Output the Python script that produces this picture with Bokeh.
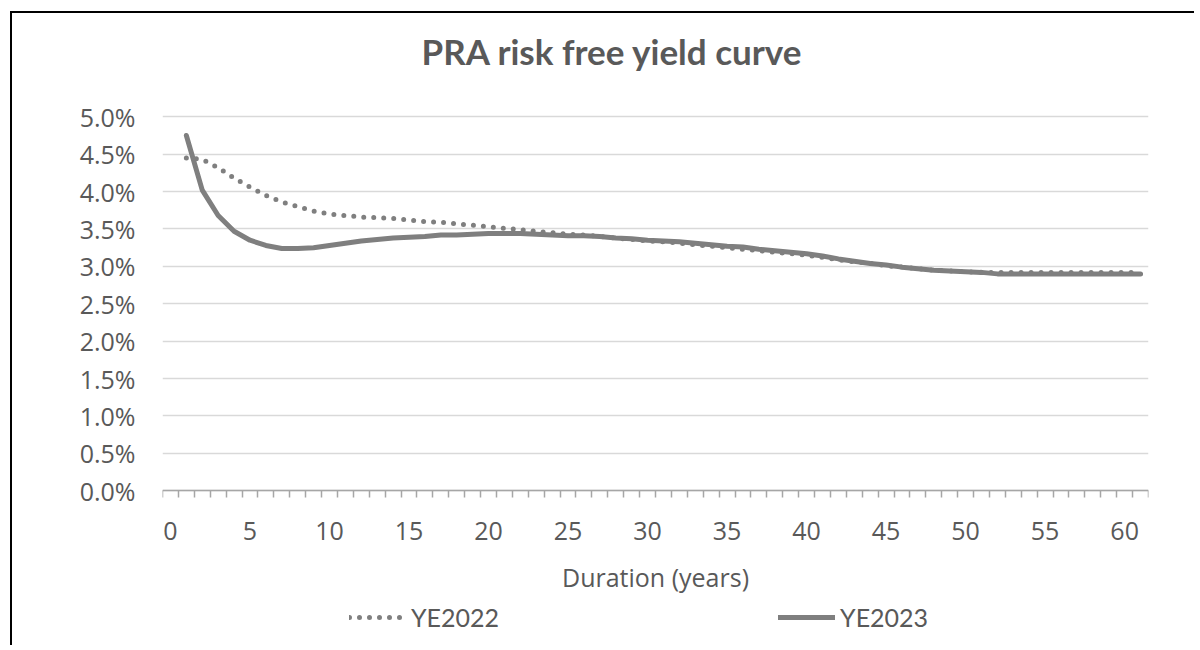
from bokeh.plotting import figure
from bokeh.models import Range1d, FixedTicker, PrintfTickFormatter, Legend, LegendItem, Label, ColumnDataSource
from bokeh.embed import file_html
from bokeh.resources import INLINE

# ---- data (percent) ----
durations = list(range(1, 62))
ye2023 = [4.75, 4.02, 3.68, 3.47, 3.35, 3.28, 3.24, 3.24, 3.25, 3.28,
          3.31, 3.34, 3.36, 3.38, 3.39, 3.40, 3.42, 3.42, 3.43, 3.44,
          3.44, 3.44, 3.43, 3.42, 3.41, 3.41, 3.40, 3.38, 3.37, 3.35,
          3.34, 3.33, 3.31, 3.29, 3.27, 3.26, 3.23, 3.21, 3.19, 3.17,
          3.14, 3.10, 3.07, 3.04, 3.02, 2.99, 2.97, 2.95, 2.94, 2.93,
          2.92, 2.90, 2.90, 2.90, 2.90, 2.90, 2.90, 2.90, 2.90, 2.90, 2.90]
ye2022 = [4.45, 4.43, 4.32, 4.18, 4.06, 3.95, 3.86, 3.80, 3.74, 3.70,
          3.68, 3.66, 3.65, 3.64, 3.62, 3.60, 3.59, 3.57, 3.55, 3.53,
          3.51, 3.49, 3.47, 3.45, 3.43, 3.42, 3.40, 3.38, 3.36, 3.34,
          3.33, 3.31, 3.29, 3.27, 3.25, 3.23, 3.21, 3.19, 3.17, 3.15,
          3.12, 3.09, 3.06, 3.04, 3.01, 2.99, 2.97, 2.95, 2.94, 2.93,
          2.92, 2.92, 2.92, 2.92, 2.92, 2.92, 2.92, 2.92, 2.92, 2.92, 2.92]
x_labels = list(range(0, 61, 5))
y_ticks = [0.0, 0.5, 1.0, 1.5, 2.0, 2.5, 3.0, 3.5, 4.0, 4.5, 5.0]
title_text = "PRA risk free yield curve"
x_title = "Duration (years)"
series_names = ["YE2022", "YE2023"]

TEXT = "#595959"
LINE = "#7f7f7f"

src = ColumnDataSource(dict(x=durations, a=ye2022, b=ye2023))

# frame spans the full canvas height; the value axis occupies 0..5 inside it
p = figure(width=1184, height=634, output_backend="svg", toolbar_location=None,
           x_range=Range1d(-0.5, 61.5), y_range=Range1d(-2.095, 6.381),
           min_border_left=150, min_border_right=48, min_border_top=0, min_border_bottom=0,
           styles={"border-left": "2px solid black", "border-top": "2px solid black",
                   "margin-left": "10px", "margin-top": "11px"})
p.title.visible = False
p.outline_line_color = None
p.background_fill_color = "white"
p.border_fill_color = "white"

# grid
p.xgrid.grid_line_color = None
p.ygrid.grid_line_color = "#d9d9d9"
p.ygrid.grid_line_width = 1.5

# y axis
p.yaxis.ticker = FixedTicker(ticks=y_ticks)
p.yaxis.formatter = PrintfTickFormatter(format="%.1f%%")
p.yaxis.axis_line_color = None
p.yaxis.major_tick_line_color = None
p.yaxis.minor_tick_line_color = None
p.yaxis.major_tick_out = 0
p.yaxis.major_tick_in = 0
p.yaxis.major_label_standoff = 27
p.yaxis.major_label_text_font = "Open Sans"
p.yaxis.major_label_text_font_size = "25px"
p.yaxis.major_label_text_color = TEXT

# x axis (category boundaries as tick marks, labels every 5)
boundaries = [i - 0.5 for i in range(0, 63)]
p.xaxis.fixed_location = 0
p.xaxis.ticker = FixedTicker(ticks=x_labels, minor_ticks=boundaries)
p.xaxis.axis_line_color = "#a6a6a6"
p.xaxis.axis_line_width = 1.5
p.xaxis.major_tick_out = 0
p.xaxis.major_tick_in = 0
p.xaxis.minor_tick_out = 7
p.xaxis.minor_tick_in = 0
p.xaxis.minor_tick_line_color = "#a6a6a6"
p.xaxis.minor_tick_line_width = 1.5
p.xaxis.major_label_standoff = 24
p.xaxis.major_label_text_font = "Open Sans"
p.xaxis.major_label_text_font_size = "25px"
p.xaxis.major_label_text_color = TEXT
p.xaxis.axis_label = x_title
p.xaxis.axis_label_text_font = "Open Sans"
p.xaxis.axis_label_text_font_size = "25px"
p.xaxis.axis_label_text_font_style = "normal"
p.xaxis.axis_label_text_color = TEXT
p.xaxis.axis_label_standoff = 17

# lines
r22 = p.line("x", "a", source=src, line_color=LINE, line_width=5, line_dash="0 10", line_cap="round")
r23 = p.line("x", "b", source=src, line_color=LINE, line_width=5, line_join="round", line_cap="round")

legend = Legend(items=[LegendItem(label=series_names[0], renderers=[r22]),
                       LegendItem(label=series_names[1], renderers=[r23])],
                orientation="horizontal", location=(187, 15),
                border_line_color=None, background_fill_alpha=0,
                padding=0, margin=0, spacing=279, glyph_width=57, glyph_height=20,
                label_standoff=5, label_text_font="Lato",
                label_text_font_size="25px", label_text_color=TEXT)
p.add_layout(legend, "center")

title = Label(x=27.8, y=5.88, text=title_text, text_align="center", text_baseline="alphabetic",
              text_font="Lato", text_font_size="35px", text_font_style="bold", text_color=TEXT)
p.add_layout(title)

open("out.html", "w").write(file_html(p, INLINE))
